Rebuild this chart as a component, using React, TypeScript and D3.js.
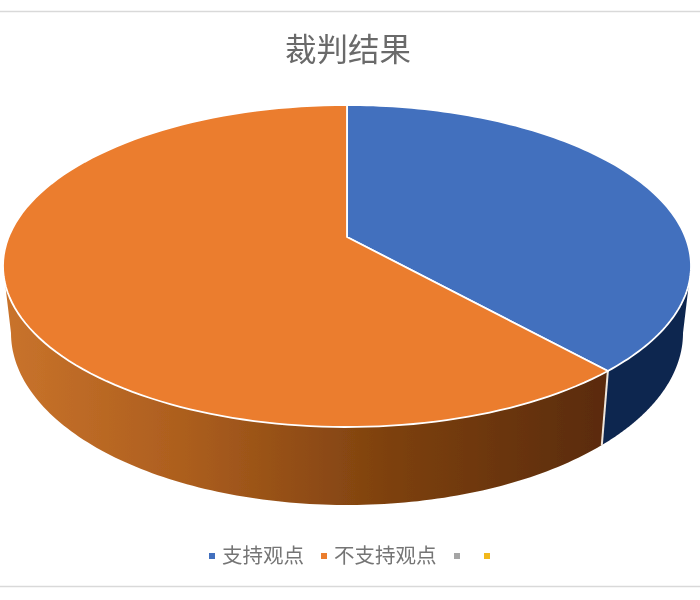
import React from "react";
import * as d3 from "d3";

const title = "裁判结果";
const categories = ["支持观点", "不支持观点", "", ""];
const values = [36.3, 63.7, 0, 0];
const topColors = ["#4270be", "#eb7d2f", "#a5a5a5", "#f2b81c"];
const legendMarkerX = [212, 324, 457, 487];
const legendTextX = [222, 334, 0, 0];

const cx = 347, topCy = 266, topRx = 344, topRy = 161, apexY = 237;
const botCx = 347, botCy = 333, botRx = 336, botRy = 172;

type Pt = [number, number];
const topAt = (t: number): Pt => [cx + topRx * Math.sin(t), topCy - topRy * Math.cos(t)];
const botAt = (t: number): Pt => [botCx + botRx * Math.sin(t), botCy - botRy * Math.cos(t)];
const samples = (a: number, b: number, f: (t: number) => Pt): Pt[] =>
  d3.range(0, 121).map((i) => f(a + ((b - a) * i) / 120));
const line = d3.line<Pt>();

export default function App() {
  const arcs = d3.pie<number>().sort(null)(values);
  const blue = arcs[0], orange = arcs[1];
  const q = Math.PI / 2;
  const seam = blue.endAngle;
  const blueWall = [...samples(q, seam, topAt), ...samples(seam, q, botAt)];
  const orangeWall = [...samples(seam, 3 * q, topAt), ...samples(3 * q, seam, botAt)];
  return (
    <svg width={700} height={600} style={{ position: "absolute", left: 0, top: 0, background: "#fff" }}
      fontFamily="'Noto Sans CJK SC', sans-serif">
      <defs>
        <linearGradient id="wallOrange" gradientUnits="userSpaceOnUse" x1={5} x2={605} y1={0} y2={0}>
          <stop offset="0" stopColor="#c9732b" />
          <stop offset="0.3" stopColor="#ac5e1e" />
          <stop offset="0.65" stopColor="#7c400e" />
          <stop offset="1" stopColor="#5a2b08" />
        </linearGradient>
        <filter id="soft" x="-2%" y="-2%" width="104%" height="104%">
          <feGaussianBlur stdDeviation="0.6" />
        </filter>
      </defs>
      <g filter="url(#soft)">
        <line x1={0} x2={700} y1={11.5} y2={11.5} stroke="#d9d9d9" strokeWidth={1.5} />
        <line x1={0} x2={700} y1={586.5} y2={586.5} stroke="#d9d9d9" strokeWidth={1.5} />
        <text x={348} y={61} textAnchor="middle" fontSize={31.5} fill="#6a6a6a">{title}</text>

        <path d={line(blueWall)! + "Z"} fill="#112750" />
        <path d={line(orangeWall)! + "Z"} fill="url(#wallOrange)" />
        <line x1={topAt(seam)[0]} y1={topAt(seam)[1]} x2={botAt(seam)[0]} y2={botAt(seam)[1]}
          stroke="#f0e6dc" strokeWidth={2} />

        {[blue, orange].map((a, i) => {
          const pts: Pt[] = [[cx, apexY], ...samples(a.startAngle, a.endAngle, topAt)];
          return <path key={i} d={line(pts)! + "Z"} fill={topColors[i]} stroke="#fff" strokeWidth={1.8} strokeLinejoin="round" />;
        })}

        {categories.map((c, i) => (
          <g key={i}>
            <rect x={legendMarkerX[i] - 3} y={553} width={6} height={6} fill={topColors[i]} />
            {c && <text x={legendTextX[i]} y={563} fontSize={20.5} fill="#757575">{c}</text>}
          </g>
        ))}
      </g>
    </svg>
  );
}
